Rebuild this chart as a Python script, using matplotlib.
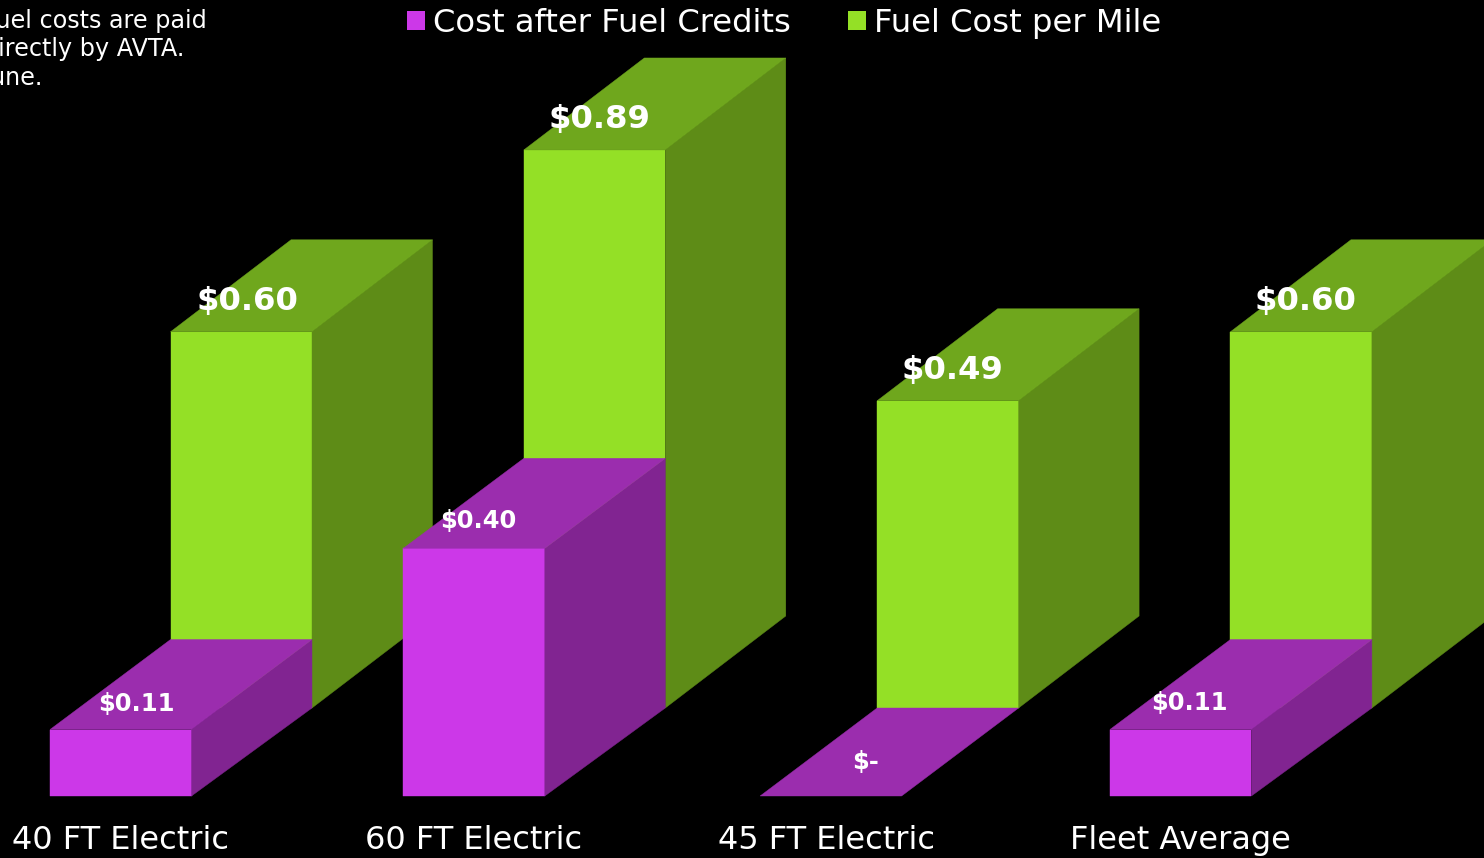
import matplotlib.pyplot as plt
from matplotlib.patches import Patch, Polygon

plt.rcParams["font.family"] = "DejaVu Sans"

categories = ["40 FT Electric", "60 FT Electric", "45 FT Electric", "Fleet Average"]
fuel_cost = [0.60, 0.89, 0.49, 0.60]
after_credits = [0.106, 0.395, 0.0, 0.106]
fuel_labels = ["$0.60", "$0.89", "$0.49", "$0.60"]
credit_labels = ["$0.11", "$0.40", "$-", "$0.11"]
note = "Fuel costs are paid\ndirectly by AVTA.\nJune."

# one x unit = one category step, one y unit = one dollar
PX_X = 1 / 353.3
PX_Y = 1 / 627
WIDTH = 141.5 * PX_X
DX = 120.5 * PX_X
REAR_DX = 120.5 * PX_X
REAR_DY = 88 * PX_Y

PURPLE = ("#cc38e8", "#9b2dae", "#812491")
GREEN = ("#94e026", "#6fa71d", "#5e8c17")


def box(ax, x, y0, height, depth_x, depth_y, floor_y, cols, z):
    front, top, side = cols
    y1 = y0 + height
    if height > 0:
        ax.add_patch(Polygon([(x, y0), (x + WIDTH, y0), (x + WIDTH, y1), (x, y1)],
                             fc=front, ec=front, lw=0.3, zorder=z))
        ax.add_patch(Polygon([(x + WIDTH, y0), (x + WIDTH + depth_x, y0 + floor_y),
                              (x + WIDTH + depth_x, y1 + depth_y), (x + WIDTH, y1)],
                             fc=side, ec=side, lw=0.3, zorder=z))
    ax.add_patch(Polygon([(x, y1), (x + WIDTH, y1), (x + WIDTH + depth_x, y1 + depth_y),
                          (x + depth_x, y1 + depth_y)],
                         fc=top, ec=top, lw=0.3, zorder=z))


fig = plt.figure(figsize=(14.84, 8.58), dpi=100, facecolor="black")
ax = fig.add_axes([0, 0, 1, 1])
ax.set_xlim(-50 * PX_X, 1434 * PX_X)
ax.set_ylim(-62 * PX_Y, 796 * PX_Y)
ax.axis("off")

cat_off = [-38, -38, -39, -40]
for i, cat in enumerate(categories):
    rear_x = i + REAR_DX
    box(ax, rear_x, REAR_DY, fuel_cost[i], DX, 92 * PX_Y, 92 * PX_Y, GREEN, 2)
    if after_credits[i] > 0:
        box(ax, i, 0, after_credits[i], DX, 90 * PX_Y, REAR_DY, PURPLE, 3)
    else:
        # the flat bar leans a little less than the others
        box(ax, rear_x - 117 * PX_X, 0, 0, 117 * PX_X, REAR_DY, REAR_DY, PURPLE, 3)
    ax.text(i + cat_off[i] * PX_X, -53 * PX_Y, cat, color="white", fontsize=23,
            ha="left", va="baseline")

rear_off = [77, 76, 75, 75]
front_off = [86, 75, 109, 79]
front_up = [26, 27, 34, 27]
for i in range(4):
    ax.text(i + REAR_DX + rear_off[i] * PX_X, REAR_DY + fuel_cost[i] + 30 * PX_Y, fuel_labels[i],
            color="white", fontsize=23.2, fontweight="bold", ha="center", va="center", zorder=5)
    ax.text(i + front_off[i] * PX_X, after_credits[i] + front_up[i] * PX_Y, credit_labels[i],
            color="white", fontsize=17.5, fontweight="bold", ha="center", va="center", zorder=5)

ax.text(-67 * PX_X, 796 * PX_Y - 9 * PX_Y, note, color="white", fontsize=17.2, ha="left", va="top",
        linespacing=1.23, clip_on=False)

handles = [Patch(fc=PURPLE[0], label="Cost after Fuel Credits"),
           Patch(fc=GREEN[0], label="Fuel Cost per Mile")]
fig.legend(handles=handles, ncol=2, frameon=False, labelcolor="white", fontsize=23.2,
           loc="upper left", bbox_to_anchor=(407 / 1484, 1 - 8 / 858), borderaxespad=0, borderpad=0,
           handlelength=0.56, handleheight=0.56, handletextpad=0.25, columnspacing=1.77)

fig.savefig("out.png", dpi=100, facecolor="black")
